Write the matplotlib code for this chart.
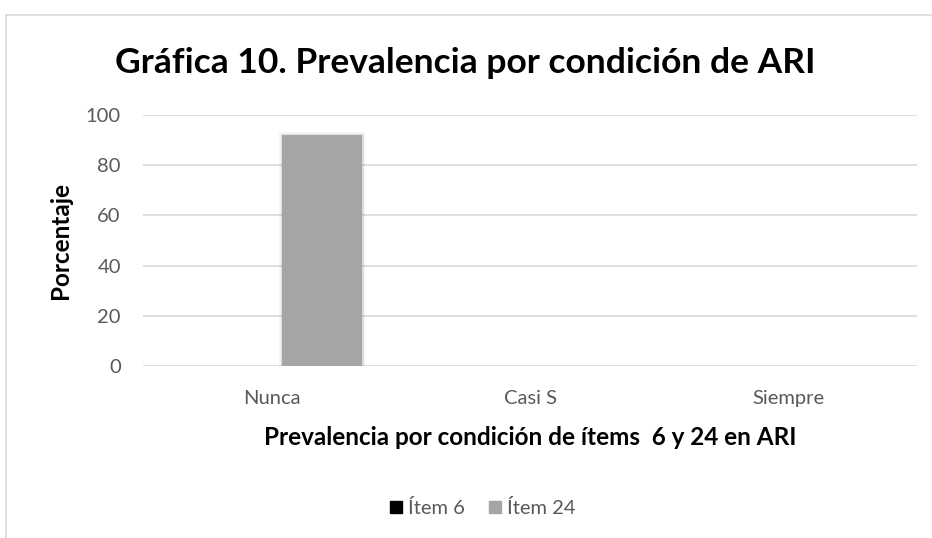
import numpy as np
import matplotlib.pyplot as plt
import matplotlib.patheffects as pe
from matplotlib.lines import Line2D

categories = ["Nunca", "Casi S", "Siempre"]
series_names = ["Ítem 6", "Ítem 24"]
item6 = [0, 0, 0]
item24 = [92, 0, 0]
colors = ["#000000", "#A5A5A5"]

plt.rcParams['font.family'] = ['Lato', 'DejaVu Sans']

fig = plt.figure(figsize=(9.32, 5.38), dpi=100)
ax = fig.add_axes([143/932, 172/538, 774/932, 251/538])

x = np.arange(len(categories))
width = 0.31
offset = 0.194
ax.bar(x - offset, item6, width, color=colors[0], label=series_names[0])
bars = ax.bar(x + offset, item24, width, color=colors[1], label=series_names[1])
# soft halo round the bars that have a height
for b, v in zip(bars, item24):
    if v > 0:
        b.set_path_effects([pe.Stroke(linewidth=4, foreground='#000000', alpha=0.05),
                            pe.Stroke(linewidth=2, foreground='#000000', alpha=0.08),
                            pe.Normal()])

ax.set_xlim(-0.5, 2.5)
ax.set_ylim(0, 100)
ax.set_yticks(range(0, 101, 20))
ax.set_xticks(x)
ax.set_xticklabels(categories)
ax.tick_params(axis='both', length=0, labelsize=14.5, labelcolor='#595959')
ax.tick_params(axis='x', pad=17)
ax.tick_params(axis='y', pad=16)
ax.yaxis.grid(True, color='#D9D9D9', linewidth=1.2)
ax.set_axisbelow(True)
for s in ax.spines.values():
    s.set_visible(False)

ax.set_ylabel("Porcentaje", fontsize=17.5, fontweight='bold')
ax.yaxis.set_label_coords(-0.107, 0.5)
ax.yaxis.label.set_va('center')
ax.set_xlabel("Prevalencia por condición de ítems  6 y 24 en ARI", fontsize=17.5, fontweight='bold')
ax.xaxis.set_label_coords(0.5, -0.283)
ax.xaxis.label.set_va('center')

fig.text(465/932, 1 - 63/538, "Gráfica 10. Prevalencia por condición de ARI",
         ha='center', va='center', fontsize=25.5, fontweight='bold')

handles = [plt.Rectangle((0, 0), 1, 1, color=c) for c in colors]
leg = fig.legend(handles, series_names, loc='center', bbox_to_anchor=(483/932, 1 - 508/538),
                 ncol=2, frameon=False, fontsize=14.5, handlelength=0.6, handleheight=0.6,
                 handletextpad=0.3, columnspacing=1.2)
for t in leg.get_texts():
    t.set_color('#595959')

# chart frame
fig.add_artist(Line2D([6/932, 1], [1 - 15/538] * 2, color='#D9D9D9', linewidth=1.2))
fig.add_artist(Line2D([6/932] * 2, [0, 1 - 15/538], color='#D9D9D9', linewidth=1.2))

fig.savefig("out.png", dpi=100)
